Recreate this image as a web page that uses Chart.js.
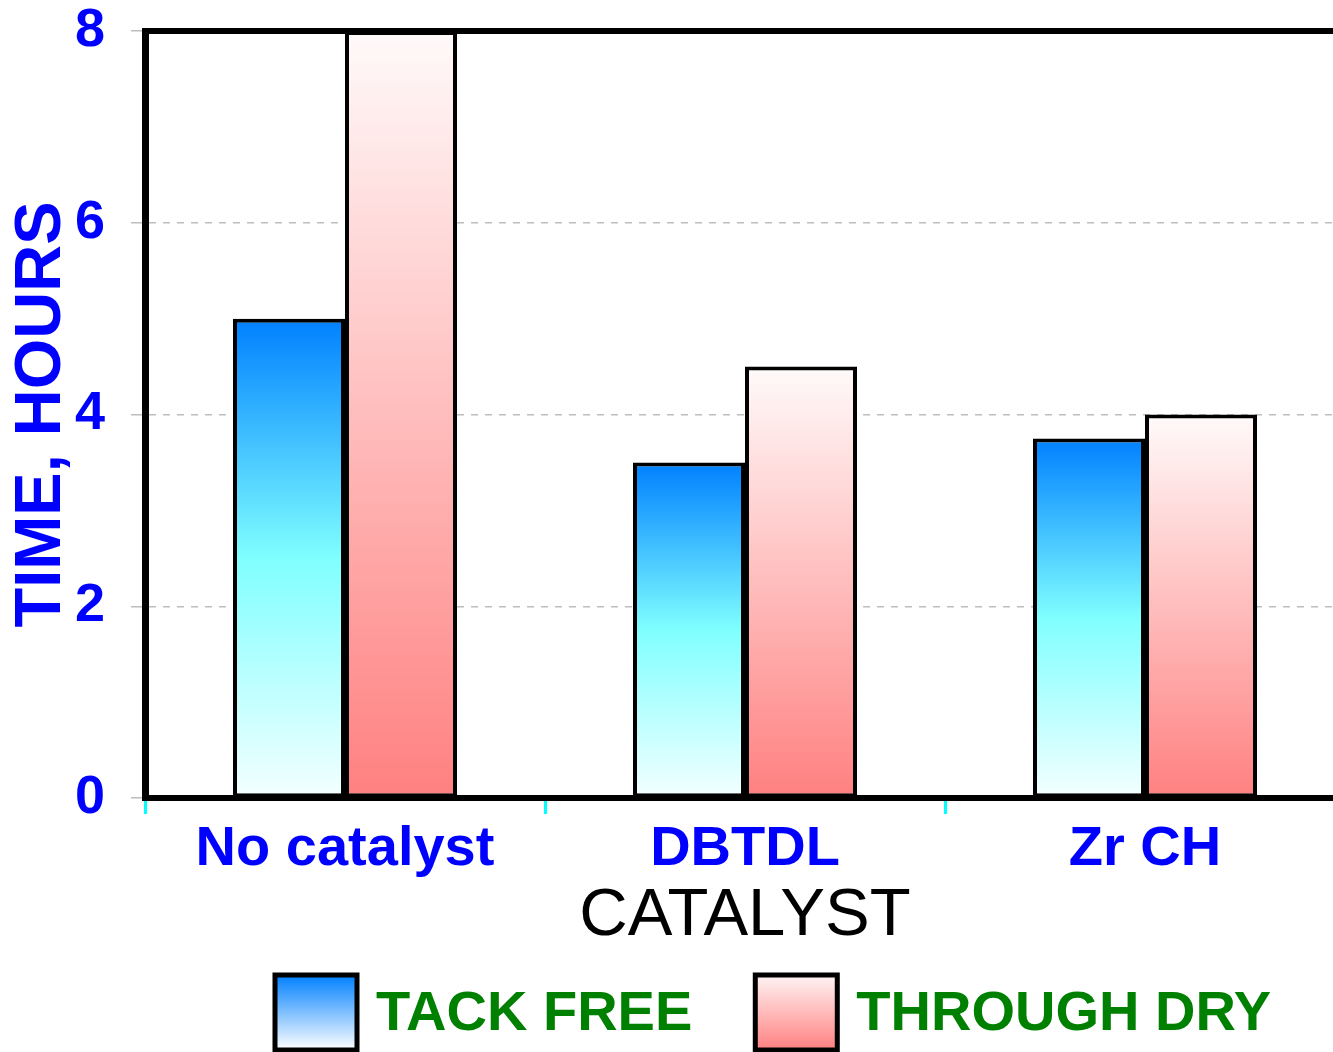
<!DOCTYPE html>
<html>
<head>
<meta charset="utf-8">
<script src="https://cdn.jsdelivr.net/npm/chart.js@4/dist/chart.umd.min.js"></script>
<style>
  html, body { margin: 0; padding: 0; overflow: hidden; background: #fff; }
  #wrap { width: 1345px; height: 1052px; position: relative; }
</style>
</head>
<body>
<div id="wrap"><canvas id="dryChart"></canvas></div>
<script>
const catalysts = ['No catalyst', 'DBTDL', 'Zr CH'];
const tackFree = [5, 3.5, 3.75];
const throughDry = [8, 4.5, 4];
const seriesNames = ['TACK FREE', 'THROUGH DRY'];
const yTicks = [0, 2, 4, 6, 8];

const FONT = "'Liberation Sans', Arial, sans-serif";
const tackStops = [[0, '#0080ff'], [0.5, '#80ffff'], [1, '#f4ffff']];
const dryStops = [[0, '#fffafa'], [1, '#ff8080']];
const tackLegendStops = [[0, '#0080ff'], [1, '#ffffff']];
const dryLegendStops = [[0, '#fff4f4'], [1, '#ff8080']];

function barGradient(ctx, stops) {
    const chart = ctx.chart;
    if (!chart.chartArea || ctx.type !== 'data') return stops[0][1];
    const y = chart.scales.y;
    const top = y.getPixelForValue(ctx.parsed.y);
    const base = y.getPixelForValue(0);
    const g = chart.ctx.createLinearGradient(0, top, 0, base);
    stops.forEach(s => g.addColorStop(s[0], s[1]));
    return g;
}

// top frame line of the plot box
const framePlugin = {
    id: 'frame',
    beforeDatasetsDraw(chart) {
        const { ctx, chartArea } = chart;
        ctx.save();
        ctx.strokeStyle = '#000';
        ctx.lineWidth = 6;
        ctx.beginPath();
        ctx.moveTo(chartArea.left - 3, chartArea.top);
        ctx.lineTo(chartArea.right, chartArea.top);
        ctx.stroke();
        ctx.restore();
    }
};

// legend along the bottom, boxes filled like the bars
const legendPlugin = {
    id: 'bottomLegend',
    afterDraw(chart) {
        const ctx = chart.ctx;
        const boxW = 82, boxH = 75, top = 975;
        let x = 275;
        const stopsFor = [tackLegendStops, dryLegendStops];
        ctx.save();
        ctx.font = 'bold 56px ' + FONT;
        ctx.textBaseline = 'middle';
        chart.data.datasets.forEach((ds, i) => {
            const g = ctx.createLinearGradient(0, top, 0, top + boxH);
            stopsFor[i].forEach(s => g.addColorStop(s[0], s[1]));
            ctx.fillStyle = g;
            ctx.fillRect(x, top, boxW, boxH);
            ctx.strokeStyle = '#000';
            ctx.lineWidth = 5;
            ctx.strokeRect(x, top, boxW, boxH);
            ctx.fillStyle = '#008000';
            ctx.fillText(ds.label, x + boxW + 19, top + boxH / 2 + 2);
            x += boxW + 19 + ctx.measureText(ds.label).width + 63;
        });
        ctx.restore();
    }
};

new Chart(document.getElementById('dryChart'), {
    type: 'bar',
    data: {
        labels: catalysts,
        datasets: [{
            label: seriesNames[0],
            data: tackFree,
            backgroundColor: ctx => barGradient(ctx, tackStops),
            borderColor: '#000',
            borderWidth: 4,
            borderSkipped: false
        }, {
            label: seriesNames[1],
            data: throughDry,
            backgroundColor: ctx => barGradient(ctx, dryStops),
            borderColor: '#000',
            borderWidth: 4,
            borderSkipped: false
        }]
    },
    options: {
        responsive: true,
        maintainAspectRatio: false,
        animation: false,
        categoryPercentage: 0.56,
        barPercentage: 1,
        layout: { padding: { top: 31, right: 0, bottom: 95, left: 0 } },
        plugins: {
            legend: { display: false },
            tooltip: { enabled: false }
        },
        scales: {
            x: {
                afterFit: scale => { scale.height = 159; },
                grid: {
                    drawOnChartArea: false,
                    color: '#00ffff',
                    lineWidth: 3,
                    tickLength: 16
                },
                border: { color: '#000', width: 6 },
                ticks: {
                    color: '#0000ff',
                    padding: 2,
                    font: { family: FONT, size: 56, weight: 'bold' }
                },
                title: {
                    display: true,
                    text: 'CATALYST',
                    color: '#000',
                    padding: { top: 0, bottom: 0 },
                    font: { family: FONT, size: 67 }
                }
            },
            y: {
                min: 0,
                max: 8,
                afterFit: scale => {
                    scale.width = 145;
                    scale.paddingTop = 0;
                    scale.paddingBottom = 0;
                },
                afterBuildTicks: scale => { scale.ticks = yTicks.map(v => ({ value: v })); },
                grid: {
                    color: '#bdbdbd',
                    lineWidth: 1.5,
                    tickBorderDash: [],
                    tickLength: 14
                },
                border: { color: '#000', width: 7, dash: [7, 7] },
                ticks: {
                    color: '#0000ff',
                    padding: 26,
                    font: { family: FONT, size: 54, weight: 'bold' }
                },
                title: {
                    display: true,
                    text: 'TIME, HOURS',
                    color: '#0000ff',
                    padding: { top: 3, bottom: 0 },
                    font: { family: FONT, size: 65, weight: 'bold' }
                }
            }
        }
    },
    plugins: [framePlugin, legendPlugin]
});
</script>
</body>
</html>
